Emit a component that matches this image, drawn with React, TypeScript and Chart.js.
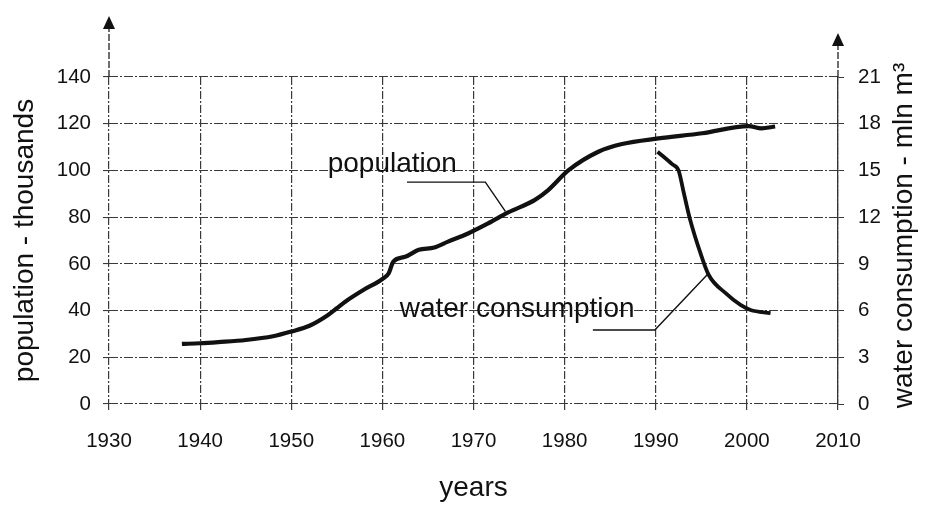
import { useEffect, useRef } from "react";
import { Chart, registerables } from "chart.js";
Chart.register(...registerables);

// ---- data ----
const popYears = [1938, 1940, 1942, 1945, 1948, 1950, 1952, 1954, 1955, 1956, 1958, 1960, 1960.7, 1961.2, 1962.5, 1964, 1965.7, 1967.2, 1969.4, 1971.6, 1973.8, 1976.7, 1978.2, 1980.4, 1983.7, 1986.3, 1990.3, 1995.1, 2000.2, 2001.6, 2003.1];
const popValues = [25.7, 26, 26.5, 27.4, 29, 31, 33.5, 38, 41, 44, 49, 53.5, 56, 61, 63, 66, 67, 69.5, 73, 77.3, 82, 87.3, 91.6, 100, 108, 111.3, 113.7, 115.9, 119, 118, 118.8];
const waterYears = [1990.2, 1991.8, 1992.5, 1993.1, 1993.7, 1994.9, 1995.8, 1997.7, 1999.3, 2000.4, 2002.6];
const waterValues = [16.2, 15.4, 15.0, 13.5, 12.0, 9.7, 8.3, 7.1, 6.36, 6.04, 5.84];

const yearRange = [1930, 2010];
const popRange = [0, 140];
const waterRange = [0, 21];
const yearStep = 10;
const popStep = 20;
const waterStep = 3;

const xTitle = "years";
const yTitle = "population - thousands";
const y1Title = "water consumption - mln m³";

const popLabel = "population";
const waterLabel = "water consumption";
// annotation anchors in data units
const popLabelAt = [1954, 99.3];
const popLeader = [[1962.7, 95], [1971.3, 95], [1973.5, 82.5]];
const waterLabelAt = [1961.9, 5.6];
const waterLeader = [[1983.1, 4.75], [1989.9, 4.75], [1995.8, 8.4]];

const FONT = "'Liberation Sans', Arial, sans-serif";

const annotationPlugin = {
  id: "annot",
  afterDraw(chart: any) {
    const { ctx, chartArea, scales } = chart;
    const x = scales.x, y = scales.y, y1 = scales.y1;
    ctx.save();
    // axis extensions with arrows
    const drawArrow = (px: number, tip: number) => {
      ctx.strokeStyle = "#222";
      ctx.lineWidth = 1.3;
      ctx.setLineDash([7, 2]);
      ctx.beginPath();
      ctx.moveTo(px, chartArea.top);
      ctx.lineTo(px, tip + 10);
      ctx.stroke();
      ctx.setLineDash([]);
      ctx.fillStyle = "#111";
      ctx.beginPath();
      ctx.moveTo(px, tip);
      ctx.lineTo(px - 6, tip + 13);
      ctx.lineTo(px + 6, tip + 13);
      ctx.closePath();
      ctx.fill();
    };
    drawArrow(chartArea.left, chartArea.top - 61);
    drawArrow(chartArea.right, chartArea.top - 44);

    // annotation texts
    ctx.fillStyle = "#111";
    ctx.font = `28px ${FONT}`;
    ctx.textAlign = "left";
    ctx.textBaseline = "alphabetic";
    ctx.fillText(popLabel, x.getPixelForValue(popLabelAt[0]), y.getPixelForValue(popLabelAt[1]));
    ctx.fillText(waterLabel, x.getPixelForValue(waterLabelAt[0]), y1.getPixelForValue(waterLabelAt[1]));

    // leaders
    ctx.strokeStyle = "#111";
    ctx.lineWidth = 1.4;
    const leader = (pts: number[][], sc: any) => {
      ctx.beginPath();
      pts.forEach((p, i) => {
        const px = x.getPixelForValue(p[0]);
        const py = sc.getPixelForValue(p[1]);
        if (i === 0) ctx.moveTo(px, py); else ctx.lineTo(px, py);
      });
      ctx.stroke();
    };
    leader(popLeader, y);
    leader(waterLeader, y1);

    // right axis title (reads bottom-to-top)
    ctx.font = `28px ${FONT}`;
    ctx.textAlign = "center";
    ctx.textBaseline = "middle";
    ctx.translate(chartArea.right + 66, (chartArea.top + chartArea.bottom) / 2 - 5);
    ctx.rotate(-Math.PI / 2);
    ctx.fillText(y1Title, 0, 0);
    ctx.restore();
  },
};

export default function App() {
  const ref = useRef<HTMLCanvasElement>(null);
  useEffect(() => {
    document.body.style.margin = "0";
    const gridColor = "#3a3a3a";
    const chart = new Chart(ref.current!, {
      type: "line",
      data: {
        datasets: [
          {
            label: popLabel,
            data: popYears.map((yr, i) => ({ x: yr, y: popValues[i] })),
            yAxisID: "y",
            borderColor: "#111",
            borderWidth: 4.2,
            pointRadius: 0,
            cubicInterpolationMode: "monotone",
            fill: false,
          },
          {
            label: waterLabel,
            data: waterYears.map((yr, i) => ({ x: yr, y: waterValues[i] })),
            yAxisID: "y1",
            borderColor: "#111",
            borderWidth: 3.8,
            pointRadius: 0,
            cubicInterpolationMode: "monotone",
            fill: false,
          },
        ],
      },
      options: {
        animation: false,
        responsive: false,
        layout: { padding: { top: 77, left: 0, right: 0, bottom: 0 } },
        plugins: { legend: { display: false }, tooltip: { enabled: false } },
        scales: {
          x: {
            type: "linear",
            min: yearRange[0],
            max: yearRange[1],
            afterFit: (s: any) => { s.height = 101; },
            ticks: { stepSize: yearStep, color: "#111", font: { family: FONT, size: 20.5 }, padding: 19, callback: (v: any) => String(v) },
            grid: { color: gridColor, lineWidth: 1.2, tickLength: 6 },
            border: { display: false, dash: [8, 2, 2, 2] },
            title: { display: true, text: xTitle, color: "#111", font: { family: FONT, size: 28 }, padding: { top: 0, bottom: 0 } },
          },
          y: {
            type: "linear",
            position: "left",
            min: popRange[0],
            max: popRange[1],
            afterFit: (s: any) => { s.width = 109; },
            ticks: { stepSize: popStep, color: "#111", font: { family: FONT, size: 20.5 }, padding: 12 },
            grid: { color: gridColor, lineWidth: 1.1, tickLength: 6 },
            border: { display: false, dash: [9, 2, 2, 2] },
            title: { display: true, text: yTitle, color: "#111", font: { family: FONT, size: 28 }, padding: { top: 8, bottom: 0 } },
          },
          y1: {
            type: "linear",
            position: "right",
            min: waterRange[0],
            max: waterRange[1],
            afterFit: (s: any) => { s.width = 89; },
            ticks: { stepSize: waterStep, color: "#111", font: { family: FONT, size: 20.5 }, padding: 14 },
            grid: { drawOnChartArea: false, color: gridColor, tickLength: 6 },
            border: { display: true, color: "#333", width: 1.3, dash: [8, 2] },
            title: { display: false },
          },
        },
      },
      plugins: [annotationPlugin],
    } as any);
    return () => chart.destroy();
  }, []);
  return (
    <div style={{ width: 927, height: 505, background: "#fff" }}>
      <canvas ref={ref} width={927} height={505} style={{ display: "block", width: 927, height: 505 }} />
    </div>
  );
}
